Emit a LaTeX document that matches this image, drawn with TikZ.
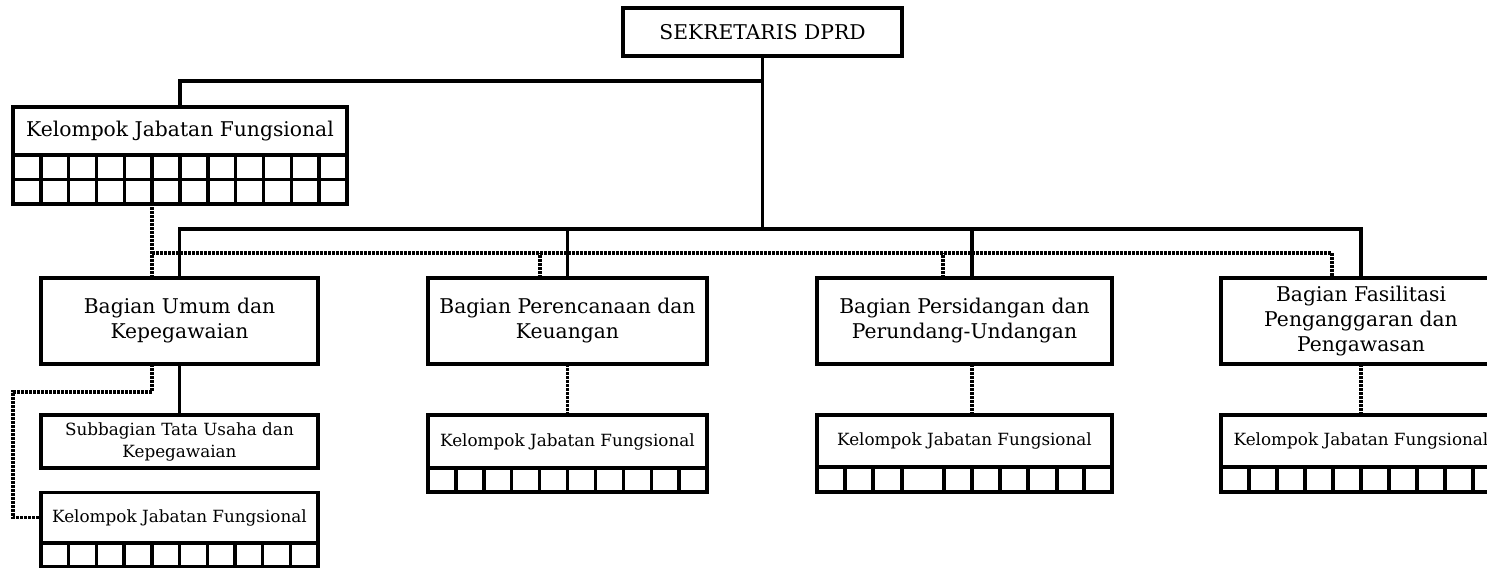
\documentclass[tikz,border=0pt]{standalone}
\usepackage{fontspec}
\setmainfont{DejaVu Serif}
\usetikzlibrary{positioning, calc}

\begin{document}
\begin{tikzpicture}[
    x=1pt, y=-1pt,
    unitbox/.style={rectangle, draw, line width=3.4pt, inner sep=0pt, outer sep=0pt, align=center, font=\fontsize{20.3}{25}\selectfont},
    subbox/.style={unitbox, font=\fontsize{16.8}{22}\selectfont},
    gridbox/.style={rectangle, draw, line width=3.4pt, inner sep=0pt, outer sep=0pt},
    link/.style={line width=3.4pt},
    dots/.style={line width=3.4pt, dash pattern=on 3pt off 1pt}
]
    \useasboundingbox (0,0) rectangle (1487,569);
    \clip (0,0) rectangle (1487,569);

    % Top: Sekretaris + Kelompok Jabatan Fungsional
    \node[unitbox, minimum width=279pt, minimum height=48pt] (sek) at (762.5,32) {SEKRETARIS DPRD};

    \node[unitbox, minimum width=334pt, minimum height=48pt] (kjf) at (180,131) {Kelompok Jabatan Fungsional};
    \node[gridbox, minimum width=334pt, minimum height=49pt, below=0pt of kjf] (kjfg) {};
    \draw[link] (kjfg.west) -- (kjfg.east);
    \foreach \i in {1,...,11}
        \draw[link] ($(kjfg.north west)+(\i*27.83,0)$) -- ($(kjfg.south west)+(\i*27.83,0)$);

    % Row 2: Bagian
    \node[unitbox, minimum width=277pt, minimum height=86pt] (umum) at (179.5,321) {Bagian Umum dan\\Kepegawaian};
    \node[unitbox, minimum width=279pt, minimum height=86pt] (renc) at (567.5,321) {Bagian Perencanaan dan\\Keuangan};
    \node[unitbox, minimum width=295pt, minimum height=86pt] (sid) at (964.5,321) {Bagian Persidangan dan\\Perundang-Undangan};
    \node[unitbox, minimum width=280pt, minimum height=86pt] (fas) at (1361,321) {Bagian Fasilitasi\\Penganggaran dan\\Pengawasan};

    % Row 3: Subbagian + Kelompok Jabatan Fungsional
    \node[subbox, minimum width=277pt, minimum height=53pt] (sub) at (179.5,441.5) {Subbagian Tata Usaha dan\\Kepegawaian};

    \node[subbox, minimum width=277pt, minimum height=50.5pt] (kjf1) at (179.5,517.75) {Kelompok Jabatan Fungsional};
    \node[gridbox, minimum width=277pt, minimum height=23.5pt, below=0pt of kjf1] (kjf1g) {};
    \foreach \i in {1,...,9}
        \draw[link] ($(kjf1g.north west)+(\i*27.7,0)$) -- ($(kjf1g.south west)+(\i*27.7,0)$);

    \node[subbox, minimum width=279pt, minimum height=53pt] (kjf2) at (567.5,441.5) {Kelompok Jabatan Fungsional};
    \node[gridbox, minimum width=279pt, minimum height=24pt, below=0pt of kjf2] (kjf2g) {};
    \foreach \i in {1,...,9}
        \draw[link] ($(kjf2g.north west)+(\i*27.9,0)$) -- ($(kjf2g.south west)+(\i*27.9,0)$);

    \node[subbox, minimum width=295pt, minimum height=52pt] (kjf3) at (964.5,441) {Kelompok Jabatan Fungsional};
    \node[gridbox, minimum width=295pt, minimum height=25pt, below=0pt of kjf3] (kjf3g) {};
    \foreach \x in {28,56,85,127,155,183,211,240,267}
        \draw[link] ($(kjf3g.north west)+(\x,0)$) -- ($(kjf3g.south west)+(\x,0)$);

    \node[subbox, minimum width=280pt, minimum height=52pt] (kjf4) at (1361,441) {Kelompok Jabatan Fungsional};
    \node[gridbox, minimum width=280pt, minimum height=25pt, below=0pt of kjf4] (kjf4g) {};
    \foreach \i in {1,...,9}
        \draw[link] ($(kjf4g.north west)+(\i*28,0)$) -- ($(kjf4g.south west)+(\i*28,0)$);

    % Dotted lines (functional groups)
    \coordinate (dbus) at (152,253);
    \coordinate (elbow) at (13,392);
    \draw[dots] ([xshift=-27.5pt]umum.north) -- ([xshift=-27.5pt]umum.north |- kjfg.south);
    \draw[dots] (dbus) -| ([xshift=-29pt]fas.north);
    \draw[dots] ([xshift=-27.5pt]renc.north) -- ([xshift=-27.5pt]renc.north |- dbus);
    \draw[dots] ([xshift=-21.5pt]sid.north) -- ([xshift=-21.5pt]sid.north |- dbus);
    \draw[dots] ([xshift=-27.5pt]umum.south) |- (elbow) |- (kjf1.west);
    \draw[dots] (renc.south) -- (kjf2.north);
    \draw[dots] ([xshift=7.5pt]sid.south) -- ([xshift=7.5pt]sid.south |- kjf3.north);
    \draw[dots] (fas.south) -- (kjf4.north);

    % Solid lines
    \coordinate (bus) at (762.5,229);
    \coordinate (top) at (762.5,81);
    \draw[link] (sek.south) -- (bus);
    \draw[link] (top) -| (kjf.north);
    \draw[link] (umum.north) |- (bus) -| (fas.north);
    \draw[link] (renc.north) -- (renc.north |- bus);
    \draw[link] ([xshift=7.5pt]sid.north) -- ([xshift=7.5pt]sid.north |- bus);
    \draw[link] (umum.south) -- (sub.north);

\end{tikzpicture}
\end{document}
